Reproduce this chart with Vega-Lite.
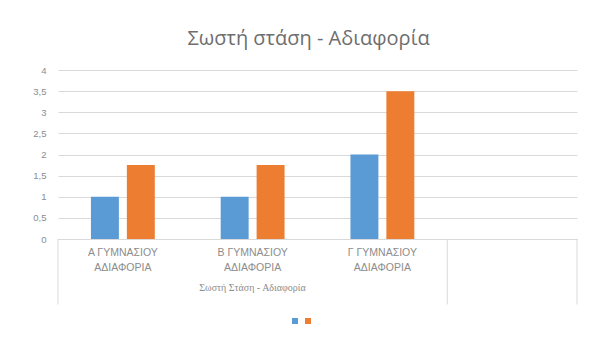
{
  "$schema": "https://vega.github.io/schema/vega-lite/v6.json",
  "width": 519,
  "height": 169,
  "autosize": {"type": "none"},
  "padding": {"left": 58, "top": 70, "right": 21, "bottom": 117},
  "background": "white",
  "config": {
    "view": {"stroke": null},
    "font": "Open Sans",
    "axis": {"labelColor": "#8c8c8c", "titleColor": "#8c8c8c", "labelFont": "Liberation Sans", "titleFont": "Liberation Serif"},
    "axisX": {
      "labelAngle": 0,
      "labelExpr": "split(datum.label, '|')",
      "labelFontSize": 10.5,
      "labelLineHeight": 15,
      "labelPadding": 8,
      "ticks": false,
      "domain": true,
      "domainColor": "#d9d9d9",
      "titleFontSize": 10,
      "titleFontWeight": "normal",
      "titleX": 194,
      "titlePadding": 10
    },
    "axisY": {
      "tickCount": 8,
      "labelExpr": "replace(toString(datum.value), '.', ',')",
      "labelOverlap": false,
      "labelFontSize": 9.5,
      "labelPadding": 12,
      "domain": false,
      "ticks": false,
      "gridColor": "#d9d9d9",
      "gridWidth": 1
    }
  },
  "title": {
    "text": "Σωστή στάση - Αδιαφορία",
    "fontSize": 20,
    "fontWeight": "normal",
    "color": "#6e6e6e",
    "font": "Open Sans",
    "dx": -9,
    "offset": 16
  },
  "datasets": {
    "bars": [
      {"cat": "Α ΓΥΜΝΑΣΙΟΥ|ΑΔΙΑΦΟΡΙΑ", "series": "Σειρά 1", "value": 1},
      {"cat": "Α ΓΥΜΝΑΣΙΟΥ|ΑΔΙΑΦΟΡΙΑ", "series": "Σειρά 2", "value": 1.75},
      {"cat": "Β ΓΥΜΝΑΣΙΟΥ|ΑΔΙΑΦΟΡΙΑ", "series": "Σειρά 1", "value": 1},
      {"cat": "Β ΓΥΜΝΑΣΙΟΥ|ΑΔΙΑΦΟΡΙΑ", "series": "Σειρά 2", "value": 1.75},
      {"cat": "Γ ΓΥΜΝΑΣΙΟΥ|ΑΔΙΑΦΟΡΙΑ", "series": "Σειρά 1", "value": 2},
      {"cat": "Γ ΓΥΜΝΑΣΙΟΥ|ΑΔΙΑΦΟΡΙΑ", "series": "Σειρά 2", "value": 3.5}
    ],
    "dividersStart": [
      {"cat": "Α ΓΥΜΝΑΣΙΟΥ|ΑΔΙΑΦΟΡΙΑ", "top": 0, "bottom": -1.55},
      {"cat": " ", "top": 0, "bottom": -1.55}
    ],
    "dividersEnd": [
      {"cat": " ", "top": 0, "bottom": -1.55}
    ]
  },
  "layer": [
    {
      "data": {"name": "bars"},
      "mark": {"type": "bar"},
      "encoding": {
        "x": {
          "field": "cat",
          "type": "nominal",
          "sort": null,
          "title": "Σωστή Στάση - Αδιαφορία",
          "scale": {
            "domain": ["Α ΓΥΜΝΑΣΙΟΥ|ΑΔΙΑΦΟΡΙΑ", "Β ΓΥΜΝΑΣΙΟΥ|ΑΔΙΑΦΟΡΙΑ", "Γ ΓΥΜΝΑΣΙΟΥ|ΑΔΙΑΦΟΡΙΑ", " "],
            "paddingInner": 0,
            "paddingOuter": 0
          }
        },
        "xOffset": {
          "field": "series",
          "type": "nominal",
          "scale": {"paddingInner": 0.222, "paddingOuter": 0.917}
        },
        "y": {
          "field": "value",
          "type": "quantitative",
          "title": null,
          "scale": {"domain": [0, 4]}
        },
        "color": {
          "field": "series",
          "type": "nominal",
          "scale": {"range": ["#5B9BD5", "#ED7D31"]},
          "legend": {
            "orient": "none",
            "legendX": 234,
            "legendY": 248,
            "direction": "horizontal",
            "title": null,
            "symbolType": "square",
            "symbolSize": 36,
            "symbolStrokeWidth": 0,
            "labelExpr": "''",
            "labelFontSize": 1,
            "labelOffset": 0,
            "columnPadding": 7
          }
        }
      }
    },
    {
      "data": {"name": "dividersStart"},
      "mark": {"type": "rule", "color": "#d9d9d9", "strokeWidth": 1},
      "encoding": {
        "x": {"field": "cat", "type": "nominal", "bandPosition": 0, "title": "Σωστή Στάση - Αδιαφορία"},
        "y": {"field": "top", "type": "quantitative", "title": null},
        "y2": {"field": "bottom"}
      }
    },
    {
      "data": {"name": "dividersEnd"},
      "mark": {"type": "rule", "color": "#d9d9d9", "strokeWidth": 1},
      "encoding": {
        "x": {"field": "cat", "type": "nominal", "bandPosition": 1, "title": "Σωστή Στάση - Αδιαφορία"},
        "y": {"field": "top", "type": "quantitative", "title": null},
        "y2": {"field": "bottom"}
      }
    }
  ]
}
